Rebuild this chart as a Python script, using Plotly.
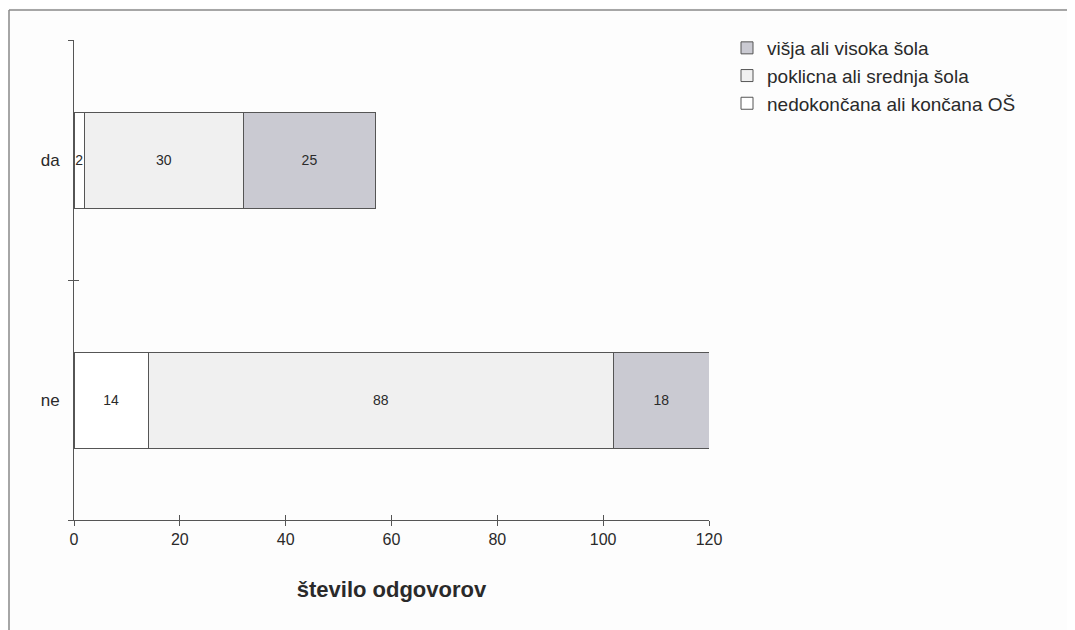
import plotly.graph_objects as go

categories = ["ne", "da"]
series_names = ["nedokončana ali končana OŠ", "poklicna ali srednja šola", "višja ali visoka šola"]
osnovna = [14, 2]
srednja = [88, 30]
visja = [18, 25]
x_ticks = [0, 20, 40, 60, 80, 100, 120]

colors = ["#ffffff", "#f0f0f0", "#cacad2"]
values = [osnovna, srednja, visja]

# the page places the figure 8px from the top-left corner, so positions are offset by 8
OFF = 8
W, H = 1075 - OFF, 630 - OFF
L, R, T, B = 74 - OFF, 709 - OFF, 40 - OFF, 520 - OFF

fig = go.Figure()
for name, vals, col in zip(series_names, values, colors):
    fig.add_trace(go.Bar(
        y=categories, x=vals, name=name, orientation="h",
        marker=dict(color=col, line=dict(color="#555555", width=1)),
        width=0.4, text=[str(v) for v in vals], textposition="inside",
        insidetextanchor="middle", constraintext="none",
        textfont=dict(family="Liberation Sans, Arial", size=14, color="#2a2a2a"),
    ))

axis_line = "#555555"
fig.update_layout(
    barmode="stack",
    width=W, height=H,
    margin=dict(l=L, r=W - R, t=T, b=H - B, autoexpand=False),
    paper_bgcolor="#fdfdfd", plot_bgcolor="rgba(0,0,0,0)",
    font=dict(family="Liberation Sans, Arial", color="#2a2a2a"),
    showlegend=True,
    legend=dict(x=(727 - OFF - L) / (R - L), y=1 + (T - (29 - OFF)) / (B - T), xanchor="left", yanchor="top",
                traceorder="reversed", font=dict(size=19, color="#2a2a2a"),
                itemwidth=30, tracegroupgap=0, bgcolor="rgba(0,0,0,0)"),
    xaxis=dict(range=[0, 120], tickvals=x_ticks, ticks="outside", ticklen=5, tickcolor=axis_line,
               showline=True, linecolor=axis_line, linewidth=1, showgrid=False, zeroline=False,
               automargin=False, tickfont=dict(size=16, color="#2a2a2a"),
               title=dict(text="<b>število odgovorov</b>", font=dict(size=22, color="#2a2a2a"), standoff=34)),
    xaxis2=dict(range=[0, 120], tickvals=x_ticks, ticks="inside", ticklen=5, tickcolor=axis_line,
                overlaying="x", side="bottom", showticklabels=False, showgrid=False, zeroline=False,
                anchor="y"),
    yaxis=dict(categoryorder="array", categoryarray=categories, range=[-0.5, 1.5],
               tickson="boundaries", ticks="outside", ticklen=5, tickcolor=axis_line,
               showline=True, linecolor=axis_line, linewidth=1, showgrid=False, automargin=False,
               tickfont=dict(size=17, color="#2a2a2a"), ticklabelstandoff=10),
    yaxis2=dict(categoryorder="array", categoryarray=categories, range=[-0.5, 1.5],
                tickson="boundaries", ticks="inside", ticklen=5, tickcolor=axis_line,
                overlaying="y", showticklabels=False, showgrid=False, anchor="x"),
)
# invisible trace to activate the overlay axes (inner tick halves)
fig.add_trace(go.Scatter(x=[0], y=["ne"], xaxis="x2", yaxis="y2", mode="markers",
                         marker=dict(opacity=0), showlegend=False, hoverinfo="skip"))

# outer frame of the scanned chart
pw, ph = R - L, B - T
def px(x): return (x - OFF - L) / pw
def py(y): return 1 - (y - OFF - T) / ph
frame = dict(type="line", xref="paper", yref="paper", line=dict(color="#888888", width=1.5))
fig.add_shape(**frame, x0=px(9), y0=py(10), x1=px(1068), y1=py(10))
fig.add_shape(**frame, x0=px(9), y0=py(10), x1=px(9), y1=py(630))
fig.add_shape(**frame, x0=px(1068), y0=py(10), x1=px(1068), y1=py(630))

fig.write_html("out.html")
